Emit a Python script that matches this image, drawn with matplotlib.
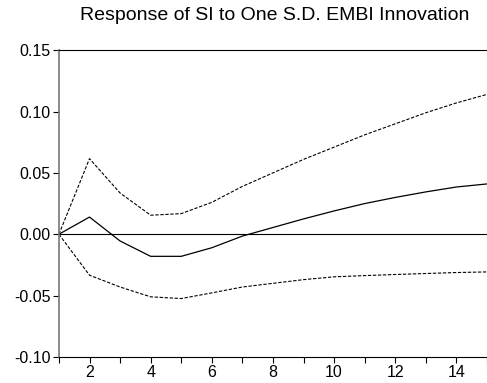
import matplotlib
matplotlib.use('Agg')
import matplotlib.pyplot as plt

periods = list(range(1, 16))
response = [0.0, 0.014, -0.0055, -0.018, -0.018, -0.011, -0.0015, 0.0055,
            0.0125, 0.019, 0.025, 0.030, 0.0345, 0.0385, 0.041]
upper = [0.0, 0.0616, 0.0336, 0.0155, 0.0168, 0.026, 0.039, 0.050,
         0.061, 0.071, 0.081, 0.090, 0.099, 0.107, 0.114]
lower = [0.0, -0.0334, -0.043, -0.051, -0.0524, -0.0478, -0.043, -0.040,
         -0.037, -0.0347, -0.0337, -0.0328, -0.032, -0.0312, -0.0307]
yticks = [-0.10, -0.05, 0.00, 0.05, 0.10, 0.15]
xlabels = [2, 4, 6, 8, 10, 12, 14]

plt.rcParams['font.family'] = ['Liberation Sans', 'DejaVu Sans']

fig = plt.figure(figsize=(4.87, 3.83), dpi=100)
ax = fig.add_axes([0.121, 0.068, 0.879, 0.801])

ax.plot(periods, response, color='black', lw=0.9)
ax.plot(periods, upper, color='black', lw=0.8, dashes=(3, 1.5))
ax.plot(periods, lower, color='black', lw=0.8, dashes=(3, 1.5))
ax.axhline(0, color='black', lw=0.8)

ax.set_xlim(1, 15)
ax.set_ylim(-0.10, 0.15)
ax.set_yticks(yticks)
ax.set_yticklabels([f'{v:.2f}' for v in yticks])
ax.set_xticks(periods)
ax.set_xticklabels([str(p) if p in xlabels else '' for p in periods])
ax.tick_params(axis='both', direction='out', length=4, width=0.8,
               labelsize=11.5, color='black', pad=2)

ax.spines['right'].set_visible(False)
ax.spines['left'].set_color('#777777')
ax.spines['left'].set_linewidth(1.2)
for s in ['top', 'bottom']:
    ax.spines[s].set_linewidth(0.8)

fig.suptitle('Response of SI to One S.D. EMBI Innovation', x=0.565, y=0.982,
             fontsize=14)

fig.savefig('out.png', dpi=100)
